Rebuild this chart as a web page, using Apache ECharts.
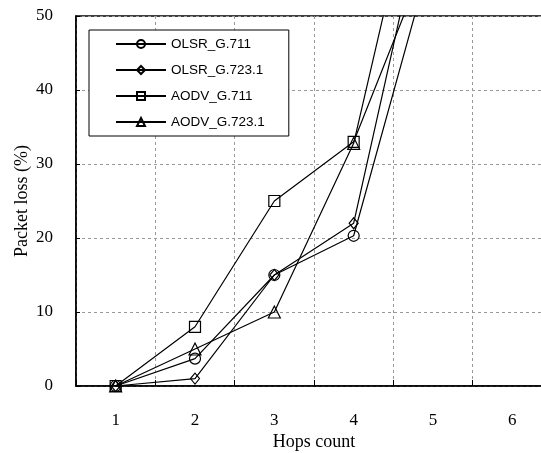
<!DOCTYPE html>
<html>
<head>
<meta charset="utf-8">
<script src="https://cdn.jsdelivr.net/npm/echarts@6/dist/echarts.min.js"></script>
<style>html,body{margin:0;padding:0;background:#fff}#c{width:541px;height:453px}</style>
</head>
<body>
<div id="c"></div>
<script>
const hops = ['1','2','3','4','5','6'];
const olsrG711 = [0, 3.7, 15, 20.3, 59];
const olsrG7231 = [0, 1, 15, 22, 70];
const aodvG711 = [0, 8, 25, 33, 60];
const aodvG7231 = [0, 5, 10, 32.8, 79];
const yTicks = {min: 0, max: 50, interval: 10};

const serif = 'Liberation Serif';
const names = ['OLSR_G.711','OLSR_G.723.1','AODV_G.711','AODV_G.723.1'];
const symbols = ['circle','diamond','rect','triangle'];
const sizes = [11, [9,11], 11, 12];
const datas = [olsrG711, olsrG7231, aodvG711, aodvG7231];

const chart = echarts.init(document.getElementById('c'), null, {renderer:'canvas'});
chart.setOption({
  animation: false,
  backgroundColor: '#fff',
  grid: {left: 76, top: 16, width: 476, height: 370, show: true, borderColor: '#000', borderWidth: 1.5, containLabel: false, outerBoundsMode: 'none'},
  legend: {
    orient: 'vertical', left: 89, top: 30,
    data: names,
    backgroundColor: '#fff',
    borderColor: '#000', borderWidth: 1,
    padding: [7, 24, 7, 26],
    itemWidth: 50, itemHeight: 10, itemGap: 12,
    textStyle: {fontFamily: 'Liberation Sans', fontSize: 13.5, color: '#000'}
  },
  xAxis: {
    type: 'category', data: hops, boundaryGap: true,
    name: 'Hops count', nameLocation: 'middle', nameGap: 47, nameMoveOverlap: false,
    nameTextStyle: {fontFamily: serif, fontSize: 18, color: '#000'},
    axisLine: {lineStyle: {color: '#000', width: 1.5}},
    axisTick: {show: true, inside: true, length: 6, alignWithLabel: false, interval: 0, lineStyle: {color: '#000'}},
    axisLabel: {margin: 26, fontFamily: serif, fontSize: 17, color: '#000', interval: 0},
    splitLine: {show: true, interval: 0, lineStyle: {color: '#999', type: [3,3], width: 1}}
  },
  yAxis: {
    type: 'value', min: yTicks.min, max: yTicks.max, interval: yTicks.interval,
    name: 'Packet loss (%)', nameLocation: 'middle', nameGap: 45, nameMoveOverlap: false,
    nameTextStyle: {fontFamily: serif, fontSize: 18, color: '#000'},
    axisLine: {show: true, lineStyle: {color: '#000', width: 1.5}},
    axisTick: {show: true, inside: true, length: 4, lineStyle: {color: '#000'}},
    axisLabel: {margin: 23, fontFamily: serif, fontSize: 17, color: '#000'},
    splitLine: {show: true, lineStyle: {color: '#999', type: [3,3], width: 1}}
  },
  series: names.map((n, i) => ({
    name: n, type: 'line', data: datas[i],
    symbol: symbols[i], symbolSize: sizes[i], showAllSymbol: true,
    clip: true,
    color: '#000',
    lineStyle: {color: '#000', width: 1.2},
    itemStyle: {color: 'rgba(255,255,255,0)', borderColor: '#000', borderWidth: 1.2}
  }))
});
</script>
</body>
</html>
